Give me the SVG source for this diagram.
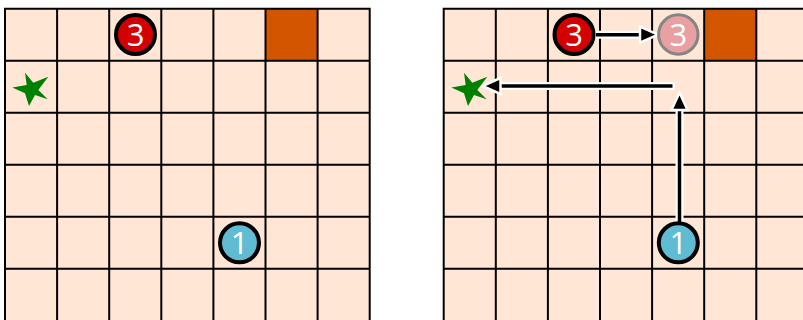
<svg xmlns="http://www.w3.org/2000/svg" width="803" height="320" viewBox="0 0 803 320">
  <style>
    .bg { fill: #FFE6D5; }
    .goal { fill: #D45500; }
    .grid { stroke: #000; stroke-width: 2; fill: none; }
    .red { fill: #D40000; stroke: #000; stroke-width: 4; }
    .blue { fill: #5FBCD3; stroke: #000; stroke-width: 4; }
    .ghost { fill: #E9A0A2; stroke: #858585; stroke-width: 3; }
    .num { fill: #fff; font-family: "Open Sans", "Liberation Sans", sans-serif; font-size: 31px; text-anchor: middle; }
    .star { fill: #008000; }
    .halo { stroke: #fff; stroke-width: 8; fill: none; }
    .line { stroke: #000; stroke-width: 3.5; fill: none; }
    .head { fill: #000; stroke: #fff; stroke-width: 2.5; stroke-linejoin: miter; }
  </style>
  <defs>
    <polygon id="starShape" points="25,72.7 33.3,82.7 48.3,76.7 38.3,90 47.7,99.3 35,95 29,106 25,93.3 12.3,87.5 26.7,85" />
  </defs>

  <!-- Left grid -->
  <g id="left-grid">
    <rect class="bg" x="5" y="8.7" width="364.7" height="320" />
    <rect class="goal" x="265.5" y="8.7" width="52.1" height="52" />
    <path class="grid" d="M5,8.7V330 M57.1,8.7V330 M109.2,8.7V330 M161.3,8.7V330 M213.4,8.7V330 M265.5,8.7V330 M317.6,8.7V330 M369.7,8.7V330
      M4,8.7H370.7 M5,60.7H369.7 M5,112.7H369.7 M5,164.7H369.7 M5,216.7H369.7 M5,268.7H369.7" />
  </g>

  <!-- Right grid -->
  <g id="right-grid">
    <rect class="bg" x="443.7" y="8.7" width="370" height="320" />
    <rect class="goal" x="704.3" y="8.7" width="52.1" height="52" />
    <path class="grid" d="M443.7,8.7V330 M495.8,8.7V330 M547.9,8.7V330 M600,8.7V330 M652.1,8.7V330 M704.2,8.7V330 M756.3,8.7V330
      M442.7,8.7H810 M443.7,60.7H810 M443.7,112.7H810 M443.7,164.7H810 M443.7,216.7H810 M443.7,268.7H810" />
  </g>

  <!-- Connectors -->
  <g id="connectors">
    <g id="arrow-3-move">
      <path class="halo" d="M596,34.7H642" />
      <path class="line" d="M596,34.7H642" />
      <polygon class="head" points="658,34.7 640,26.7 640,42.7" />
    </g>
    <g id="arrow-1-up">
      <path class="halo" d="M679.5,222V108" />
      <path class="line" d="M679.5,222V108" />
      <polygon class="head" points="679.5,92.5 671.5,110 687.5,110" />
    </g>
    <g id="arrow-to-star">
      <path class="halo" d="M674.5,86H499" />
      <path class="line" d="M672.5,86H499" />
      <polygon class="head" points="482.5,86 500.5,78 500.5,94" />
    </g>
  </g>

  <!-- Left nodes -->
  <g id="left-robot-3">
    <circle class="red" cx="135.5" cy="34.5" r="19.5" />
    <text class="num" x="135.5" y="45.5">3</text>
  </g>
  <g id="left-robot-1">
    <circle class="blue" cx="239.5" cy="242.8" r="19.5" />
    <text class="num" x="239.5" y="253.8">1</text>
  </g>
  <g id="left-star">
    <use href="#starShape" class="star" />
  </g>

  <!-- Right nodes -->
  <g id="right-robot-3">
    <circle class="red" cx="574" cy="34.5" r="19.5" />
    <text class="num" x="574" y="45.5">3</text>
  </g>
  <g id="right-robot-3-ghost">
    <circle class="ghost" cx="678.3" cy="34.5" r="19.7" />
    <text class="num" x="678.3" y="45.5">3</text>
  </g>
  <g id="right-robot-1">
    <circle class="blue" cx="678.3" cy="242.8" r="19.5" />
    <text class="num" x="678.3" y="253.8">1</text>
  </g>
  <g id="right-star">
    <use href="#starShape" class="star" transform="translate(439,0)" />
  </g>
</svg>
